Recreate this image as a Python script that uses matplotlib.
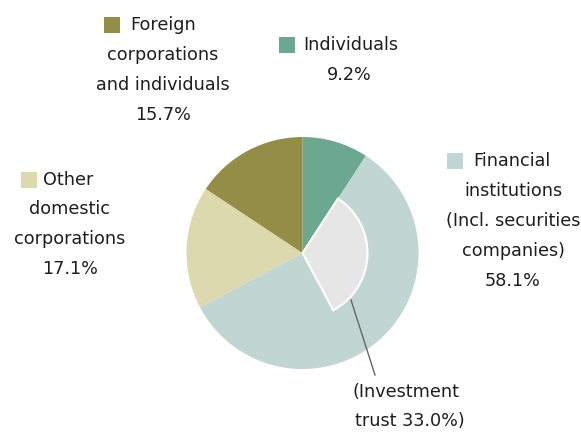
import matplotlib.pyplot as plt
from matplotlib.patches import Rectangle

W, H = 581, 437

# shareholder composition (%)
labels = ["Individuals", "Financial institutions", "Other domestic corporations",
          "Foreign corporations and individuals"]
shares = [9.2, 58.1, 17.1, 15.7]
colors = ["#6ca78f", "#c1d5d2", "#dcd9ae", "#938d48"]
trust_share = 33.0

fig = plt.figure(figsize=(W / 100, H / 100), dpi=100)
ax = fig.add_axes([0, 0, 1, 1])
ax.set_xlim(0, W)
ax.set_ylim(0, H)
ax.set_aspect("equal")
ax.axis("off")


def py(y):
    # pixel row (from top) -> data y
    return H - y


cx, cy, r = 302.5, py(253), 116
total = sum(shares)
ax.pie(shares, colors=colors, startangle=90, counterclock=False,
       center=(cx, cy), radius=r, wedgeprops=dict(linewidth=0))

# investment trust part inside the financial institutions slice
start = 90 - shares[0] / total * 360
ax.pie([trust_share, total - trust_share], colors=["#e6e6e6", "none"],
       startangle=start, counterclock=False, center=(cx, cy), radius=65,
       wedgeprops=dict(linewidth=1.5, edgecolor="white"))
ax.patches[-1].set_edgecolor("none")

ax.plot([351, 375], [py(300), py(375)], color="#666666", lw=1)

ax.set_xlim(0, W)
ax.set_ylim(0, H)

txt = dict(fontsize=12.7, color="#1e1e1e", family="DejaVu Sans", va="center")

label_blocks = [
    # (lines, center x, first-line y, spacing, square x, first-line text x)
    (["Foreign", "corporations", "and individuals", "15.7%"], 163, 25, 30, 104, 130, colors[3]),
    (["Individuals", "9.2%"], 349, 45, 30, 279, 303, colors[0]),
    (["Financial", "institutions", "(Incl. securities", "companies)", "58.1%"], 513, 161, 30, 447, 473, colors[1]),
    (["Other", "domestic", "corporations", "17.1%"], 70, 180, 29.5, 21, 43, colors[2]),
]
for lines, xc, y0, dy, sx, tx, c in label_blocks:
    ax.add_patch(Rectangle((sx, py(y0 + 8)), 16, 16, color=c, lw=0))
    ax.text(tx, py(y0), lines[0], ha="left", **txt)
    for i, line in enumerate(lines[1:], start=1):
        ax.text(xc, py(y0 + i * dy), line, ha="center", **txt)

ax.text(406, py(392), "(Investment", ha="center", **txt)
ax.text(410, py(421), "trust 33.0%)", ha="center", **txt)

fig.savefig("out.png", dpi=100)
